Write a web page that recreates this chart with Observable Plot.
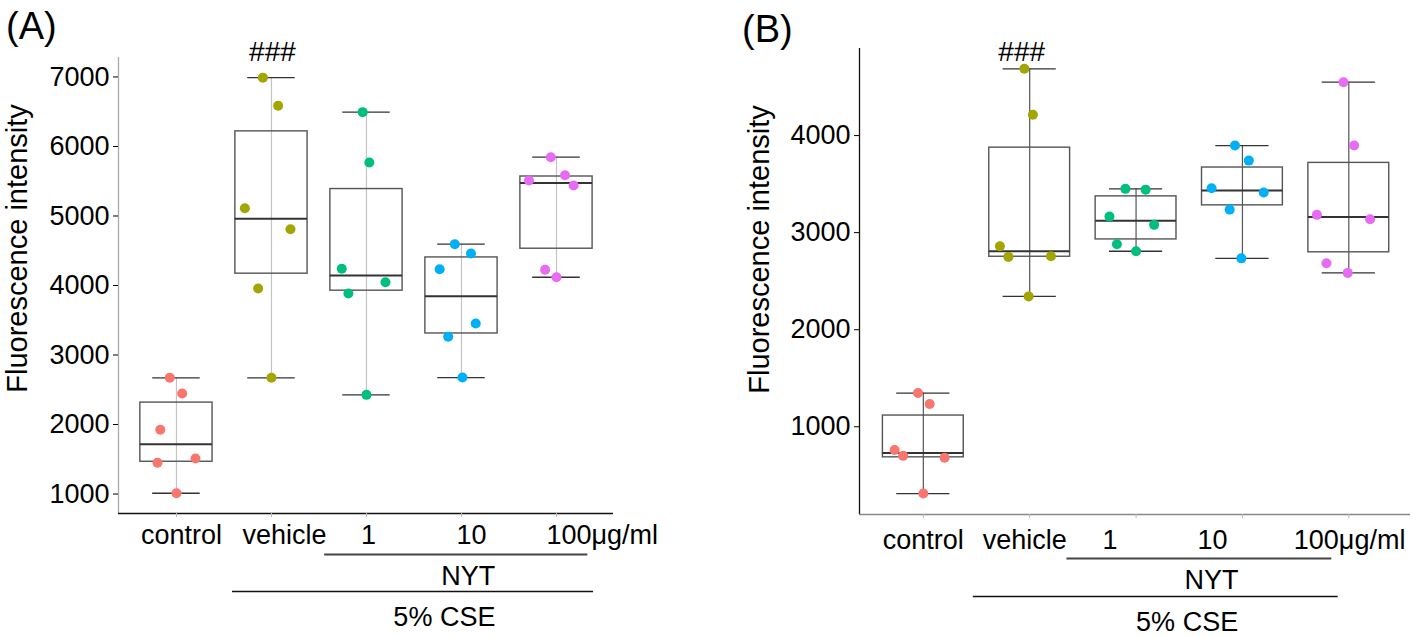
<!DOCTYPE html>
<html><head><meta charset="utf-8">
<script src="https://cdn.jsdelivr.net/npm/d3@7"></script>
<script src="https://cdn.jsdelivr.net/npm/@observablehq/plot@0.6"></script>
<style>
body{margin:0;background:#fff;font-family:"Liberation Sans",Arial,sans-serif;}
#wrap{position:relative;width:1412px;height:637px;overflow:hidden;background:#fff}
.panel{position:absolute;top:0}
.letter{position:absolute;font-size:38px;line-height:1;color:#000;z-index:2}
</style></head><body>
<div id="wrap"></div>
<script>
// ---- data ----
const groups = ["control", "vehicle", "1", "10", "100"];
const tickLabels = ["control", "vehicle", "1", "10", "100μg/ml"];
const groupColors = ["#F8766D", "#A3A500", "#00BF7D", "#00B0F6", "#E76BF3"];
const yTitle = "Fluorescence intensity";
const sigMark = "###";
const nytLabel = "NYT";
const cseLabel = "5% CSE";

// Panel A values
const aControl = [2672, 2446, 1924, 1449, 1511, 1011];
const aVehicle = [6990, 6586, 5112, 4810, 3957, 2672];
const aNyt1 = [6494, 5770, 4240, 4047, 3885, 2427];
const aNyt10 = [4594, 4460, 4235, 3453, 3262, 2676];
const aNyt100 = [5846, 5587, 5511, 5439, 4226, 4119];
const aTicks = [1000, 2000, 3000, 4000, 5000, 6000, 7000];
// horizontal jitter (fraction of category step)
const aJitter = [
  [-0.07, 0.06, -0.17, -0.2, 0.2, 0],
  [-0.09, 0.07, -0.28, 0.2, -0.14, 0],
  [-0.04, 0.03, -0.26, 0.2, -0.19, 0],
  [-0.07, 0.1, -0.23, 0.15, -0.14, 0.01],
  [-0.06, 0.09, -0.29, 0.18, -0.12, 0]
];

// Panel B values
const bControl = [1347, 1234, 760, 700, 680, 312];
const bVehicle = [4688, 4214, 2860, 2750, 2756, 2343];
const bNyt1 = [3451, 3443, 3165, 3080, 2880, 2808];
const bNyt10 = [3897, 3742, 3457, 3413, 3237, 2735];
const bNyt100 = [4550, 3897, 3183, 3137, 2684, 2585];
const bTicks = [1000, 2000, 3000, 4000];
const bJitter = [
  [-0.05, 0.06, -0.27, -0.19, 0.2, 0],
  [-0.05, 0.03, -0.28, -0.2, 0.2, -0.01],
  [-0.1, 0.09, -0.25, 0.17, -0.18, 0],
  [-0.07, 0.06, -0.29, 0.2, -0.12, -0.01],
  [-0.05, 0.05, -0.3, 0.2, -0.21, -0.01]
];

const FONT = "Liberation Sans, Arial, Helvetica, sans-serif";

function boxStats(values, i) {
  const s = values.slice().sort(d3.ascending);
  const q1 = d3.quantile(s, 0.25), med = d3.quantile(s, 0.5), q3 = d3.quantile(s, 0.75);
  const iqr = q3 - q1;
  const lo = d3.min(s.filter(v => v >= q1 - 1.5 * iqr));
  const hi = d3.max(s.filter(v => v <= q3 + 1.5 * iqr));
  return {i, g: groups[i], q1, med, q3, lo, hi};
}

function panel(cfg) {
  const rows = [];
  cfg.values.forEach((vals, i) => vals.forEach((v, j) => rows.push({i, g: groups[i], v, jit: cfg.jitter[i][j]})));
  const stats = cfg.values.map((vals, i) => boxStats(vals, i));
  const y0 = cfg.yDomain[0];
  const x0 = cfg.xDomain[0];
  const txt = {fontFamily: FONT, fill: "#000", lineAnchor: "middle"};
  const marks = [
    Plot.ruleX(stats, {x: "i", y1: "lo", y2: "hi", stroke: cfg.whiskerColor, strokeWidth: 1.2}),
    Plot.rect(stats, {x1: d => d.i - 0.38, x2: d => d.i + 0.38, y1: "q1", y2: "q3", fill: "none", stroke: "#555", strokeWidth: 1.4}),
    Plot.ruleY(stats, {y: "med", x1: d => d.i - 0.38, x2: d => d.i + 0.38, stroke: "#333", strokeWidth: 2}),
    Plot.ruleY(stats, {y: "hi", x1: d => d.i - 0.25, x2: d => d.i + 0.25, stroke: "#333", strokeWidth: 1.3}),
    Plot.ruleY(stats, {y: "lo", x1: d => d.i - 0.25, x2: d => d.i + 0.25, stroke: "#333", strokeWidth: 1.3}),
    Plot.dot(rows, {x: d => d.i + d.jit, y: "v", r: 5, fill: "g", stroke: null}),
    // axis lines
    Plot.ruleX([x0], {stroke: cfg.yAxisColor, strokeWidth: 1.3}),
    Plot.ruleY([y0], {stroke: cfg.xAxisColor, strokeWidth: 1.5}),
    Plot.axisY({ticks: cfg.yTicks, tickSize: 5, tickPadding: 4, fontSize: 27, label: null, tickFormat: d => String(d), fontFamily: FONT}),
    Plot.axisX({ticks: d3.range(groups.length), tickSize: 4, tickFormat: () => "", label: null, stroke: "#bbb"}),
    // y title
    Plot.text([yTitle], {...txt, frameAnchor: "left", textAnchor: "middle", rotate: -90, dx: cfg.titleDx, dy: cfg.titleDy, fontSize: 29}),
    // significance
    Plot.text([sigMark], {...txt, x: () => 1, frameAnchor: "top", dx: cfg.sigDx, dy: cfg.sigDy, fontSize: 28}),
    // brackets
    Plot.ruleY([y0], {x1: () => cfg.nytLine[0], x2: () => cfg.nytLine[1], dy: cfg.nytLineDy, stroke: "#444", strokeWidth: 1.8}),
    Plot.text([nytLabel], {...txt, x: () => cfg.nytText, frameAnchor: "bottom", dy: cfg.nytTextDy, fontSize: 27}),
    Plot.ruleY([y0], {x1: () => cfg.cseLine[0], x2: () => cfg.cseLine[1], dy: cfg.cseLineDy, stroke: "#111", strokeWidth: 1.5}),
    Plot.text([cseLabel], {...txt, x: () => cfg.cseText, frameAnchor: "bottom", dy: cfg.cseTextDy, fontSize: 27})
  ];
  tickLabels.forEach((t, i) => {
    marks.push(Plot.text([t], {...txt, x: () => i, frameAnchor: "bottom", dy: cfg.labelDy, dx: cfg.labelDx[i],
      textAnchor: i === 4 ? "start" : "middle", fontSize: 27}));
  });
  return Plot.plot({
    width: 706, height: 637,
    marginLeft: cfg.margin[3], marginRight: cfg.margin[1], marginTop: cfg.margin[0], marginBottom: cfg.margin[2],
    x: {type: "linear", domain: cfg.xDomain, axis: null},
    y: {domain: cfg.yDomain, axis: null},
    color: {domain: groups, range: groupColors},
    style: {fontFamily: FONT, background: "transparent", overflow: "visible"},
    marks
  });
}

const wrap = document.getElementById("wrap");

const A = panel({
  values: [aControl, aVehicle, aNyt1, aNyt10, aNyt100],
  jitter: aJitter,
  yTicks: aTicks,
  yDomain: [720, 7280],
  xDomain: [-0.61, 4.6],
  margin: [57, 93, 124, 118],
  whiskerColor: "#c4c4c4",
  yAxisColor: "#aaa",
  xAxisColor: "#111",
  titleDx: -101, titleDy: -37,
  sigDx: 1, sigDy: -5,
  labelDy: 22, labelDx: [5, 13, 2, 10, -10],
  nytLine: [1.56, 4.33], nytLineDy: 41,
  nytText: 3.07, nytTextDy: 63,
  cseLine: [0.59, 4.39], cseLineDy: 78,
  cseText: 2.82, cseTextDy: 104
});
A.classList.add("panel"); A.style.left = "0px";
wrap.appendChild(A);

const B = panel({
  values: [bControl, bVehicle, bNyt1, bNyt10, bNyt100],
  jitter: bJitter,
  yTicks: bTicks,
  yDomain: [96, 4897],
  xDomain: [-0.6, 4.58],
  margin: [48, 2, 123, 153],
  whiskerColor: "#555",
  yAxisColor: "#111",
  xAxisColor: "#888",
  titleDx: -100, titleDy: -32,
  sigDx: -8, sigDy: 4,
  labelDy: 26, labelDx: [0, -5, -26, -30, -55],
  nytLine: [1.35, 3.84], nytLineDy: 44,
  nytText: 2.71, nytTextDy: 66,
  cseLine: [0.47, 3.9], cseLineDy: 82,
  cseText: 2.48, cseTextDy: 108
});
B.classList.add("panel"); B.style.left = "706px";
wrap.appendChild(B);

const la = document.createElement("div"); la.className = "letter"; la.textContent = "(A)";
la.style.left = "6px"; la.style.top = "7px"; wrap.appendChild(la);
const lb = document.createElement("div"); lb.className = "letter"; lb.textContent = "(B)";
lb.style.left = "742px"; lb.style.top = "10px"; wrap.appendChild(lb);
</script>
</body></html>
